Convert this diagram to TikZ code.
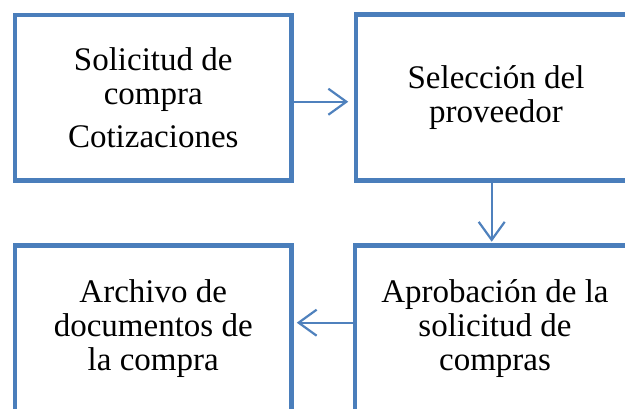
\documentclass[tikz,border=0pt]{standalone}
\usepackage{fontspec}
\setmainfont{Liberation Serif}
\usetikzlibrary{arrows.meta}
\definecolor{boxblue}{RGB}{74,126,187}
\definecolor{arrblue}{RGB}{79,129,189}
\tikzset{
  stepbox/.style={draw=boxblue, line width=4.5pt, rectangle, inner sep=0pt,
    align=center, font=\fontsize{33}{34}\selectfont},
  conn/.style={draw=arrblue, line width=2.2pt,
    -{Straight Barb[length=18pt,width=26pt,line width=2.2pt]}}
}
\begin{document}
\begin{tikzpicture}[x=1pt,y=-1pt]
\useasboundingbox (0,0) rectangle (625,409);
\clip (0,0) rectangle (625,409);
\node[stepbox, minimum width=276.5pt, minimum height=165.5pt] (tl) at (153.25,97.75)
  {Solicitud de\\compra\\[9pt]Cotizaciones};
\node[stepbox, minimum width=280pt, minimum height=166pt] (tr) at (496,97.5)
  {Selecci\'on del\\proveedor};
\node[stepbox, minimum width=276.5pt, minimum height=166pt] (bl) at (153.25,328.5)
  {Archivo de\\documentos de\\la compra};
\node[stepbox, minimum width=280pt, minimum height=166pt] (br) at (495,328.5)
  {Aprobaci\'on de la\\solicitud de\\compras};
\draw[conn, shorten >=5.5pt] ([yshift=-4pt]tl.east) -- ([yshift=-4pt]tl.east -| tr.west);
\draw[conn, shorten >=1.5pt] ([xshift=-4.3pt]tr.south) -- ([xshift=-4.3pt]tr.south |- br.north);
\draw[conn, shorten >=3pt] ([yshift=5.8pt]br.west) -- ([yshift=5.8pt]br.west -| bl.east);
\end{tikzpicture}
\end{document}
